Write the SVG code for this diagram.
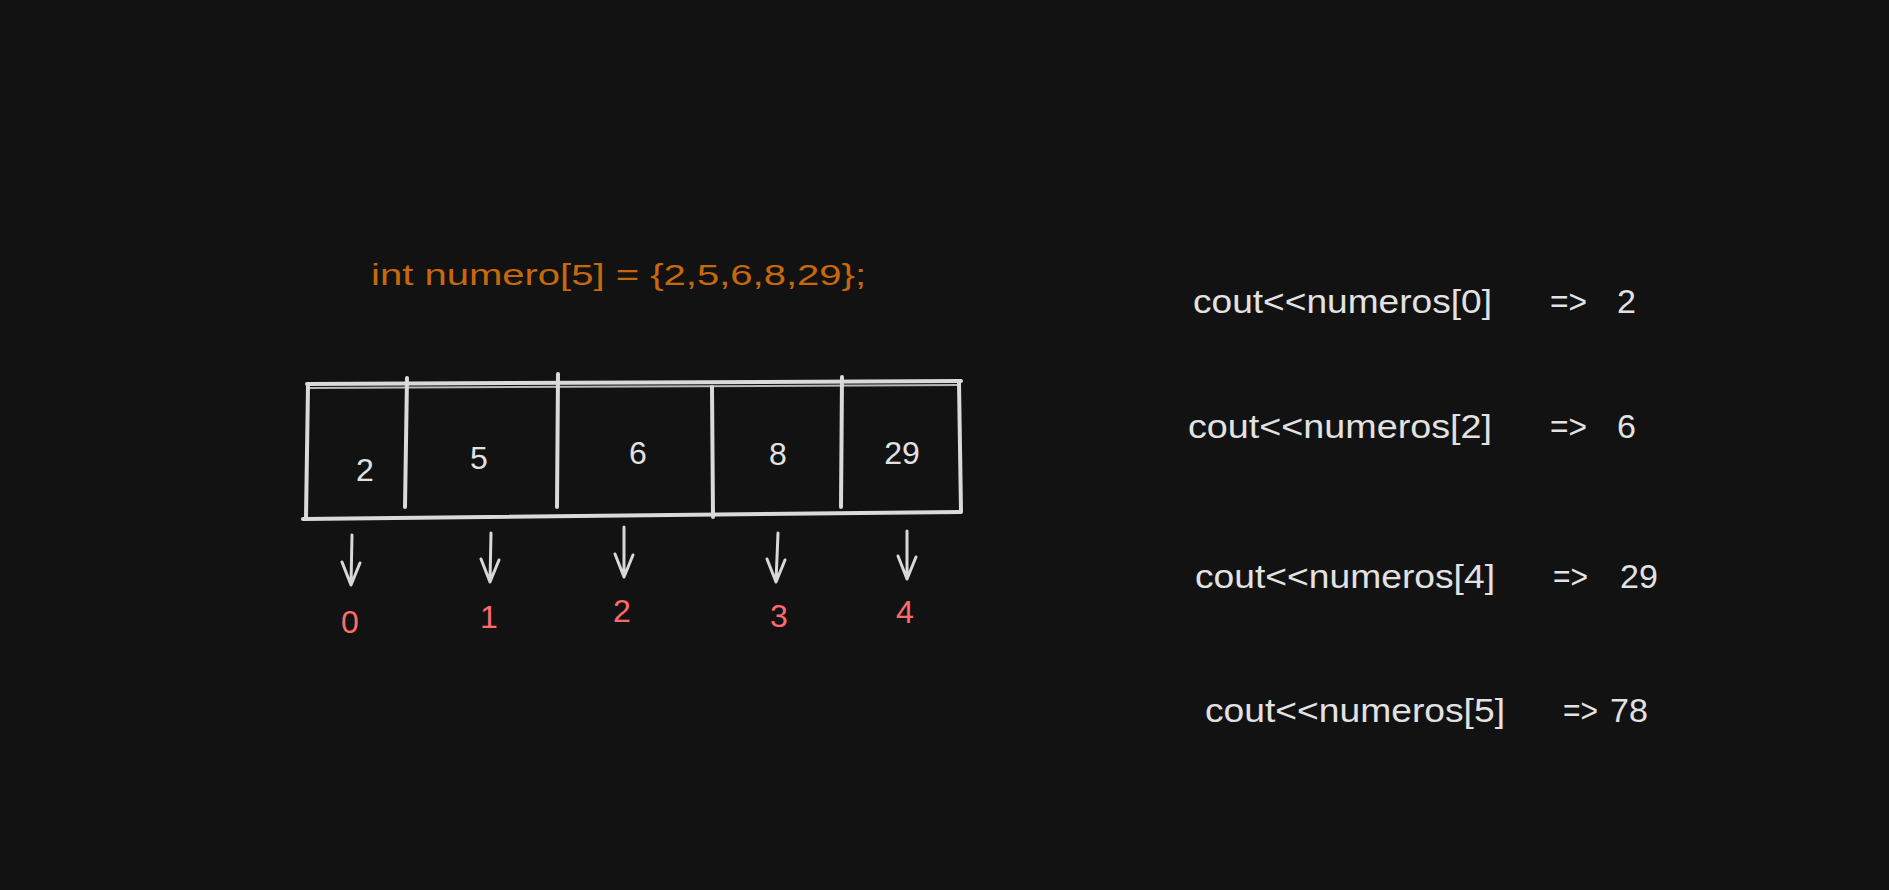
<svg xmlns="http://www.w3.org/2000/svg" width="1889" height="890" viewBox="0 0 1889 890">
<style>
.ln{stroke:#dadada;stroke-width:4;stroke-linecap:round;fill:none}
.ln2{stroke:#b8b8b8;stroke-width:2;stroke-linecap:round;fill:none}
.ar{stroke:#d8d8d8;stroke-width:3;stroke-linecap:round;stroke-linejoin:round;fill:none}
.val{font-family:"Liberation Sans",Arial,sans-serif;font-size:32px;fill:#e2e2e2;text-anchor:middle}
.idx{font-family:"Liberation Sans",Arial,sans-serif;font-size:32px;fill:#ff6b6b;text-anchor:middle}
.code{font-family:"Liberation Sans",Arial,sans-serif;font-size:34px;fill:#e2e2e2}
.title{font-family:"Liberation Sans",Arial,sans-serif;font-size:29px;fill:#c8680c}
</style>
<rect width="1889" height="890" fill="#121212"/>
<g id="title"><text class="title" x="371" y="285" textLength="495" lengthAdjust="spacingAndGlyphs">int numero[5] = {2,5,6,8,29};</text></g>
<g id="array">
<line class="ln" x1="307" y1="384" x2="961" y2="381"/>
<line class="ln2" x1="308" y1="388" x2="958" y2="385"/>
<line class="ln" x1="308" y1="386" x2="306" y2="518"/>
<line class="ln" x1="303" y1="519" x2="960" y2="512"/>
<line class="ln" x1="959" y1="382" x2="961" y2="512"/>
<line class="ln" x1="407" y1="378" x2="405" y2="507"/>
<line class="ln" x1="558" y1="374" x2="557" y2="507"/>
<line class="ln" x1="712" y1="387" x2="713" y2="517"/>
<line class="ln" x1="842" y1="377" x2="841" y2="507"/>
</g>
<g id="cell0"><text class="val" x="365" y="481">2</text></g>
<g id="cell1"><text class="val" x="479" y="469">5</text></g>
<g id="cell2"><text class="val" x="638" y="464">6</text></g>
<g id="cell3"><text class="val" x="778" y="465">8</text></g>
<g id="cell4"><text class="val" x="902" y="464">29</text></g>
<g id="connectors">
<path class="ar" d="M352 535 L351 585 M342 562 L351 585 L360 563"/>
<path class="ar" d="M491 533 L490 582 M481 559 L490 582 L499 560"/>
<path class="ar" d="M624 527 L624 577 M615 554 L624 577 L633 555"/>
<path class="ar" d="M778 533 L776 582 M767 559 L776 582 L785 560"/>
<path class="ar" d="M907 531 L907 579 M898 556 L907 579 L916 557"/>
</g>
<g id="idx0"><text class="idx" x="350" y="633">0</text></g>
<g id="idx1"><text class="idx" x="489" y="628">1</text></g>
<g id="idx2"><text class="idx" x="622" y="622">2</text></g>
<g id="idx3"><text class="idx" x="779" y="627">3</text></g>
<g id="idx4"><text class="idx" x="905" y="623">4</text></g>
<g id="line0"><text class="code" y="313"><tspan x="1193" textLength="299" lengthAdjust="spacingAndGlyphs">cout&lt;&lt;numeros[0]</tspan><tspan x="1550" textLength="37" lengthAdjust="spacingAndGlyphs">=&gt;</tspan><tspan x="1617">2</tspan></text></g>
<g id="line1"><text class="code" y="438"><tspan x="1188" textLength="304" lengthAdjust="spacingAndGlyphs">cout&lt;&lt;numeros[2]</tspan><tspan x="1550" textLength="37" lengthAdjust="spacingAndGlyphs">=&gt;</tspan><tspan x="1617">6</tspan></text></g>
<g id="line2"><text class="code" y="588"><tspan x="1195" textLength="300" lengthAdjust="spacingAndGlyphs">cout&lt;&lt;numeros[4]</tspan><tspan x="1553" textLength="35" lengthAdjust="spacingAndGlyphs">=&gt;</tspan><tspan x="1620">29</tspan></text></g>
<g id="line3"><text class="code" y="722"><tspan x="1205" textLength="300" lengthAdjust="spacingAndGlyphs">cout&lt;&lt;numeros[5]</tspan><tspan x="1563" textLength="35" lengthAdjust="spacingAndGlyphs">=&gt;</tspan><tspan x="1610">78</tspan></text></g>
</svg>
